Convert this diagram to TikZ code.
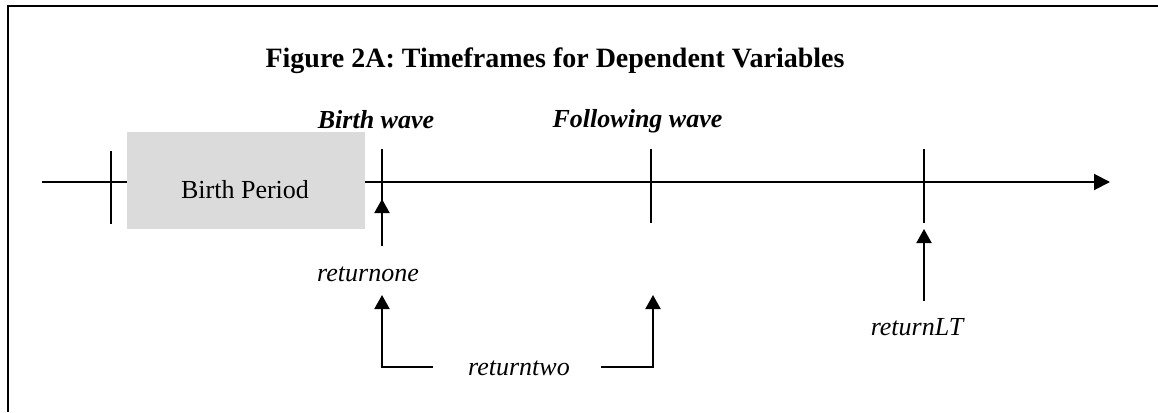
\documentclass[tikz,border=0pt]{standalone}
\usepackage{fontspec}
\setmainfont{Liberation Serif}
\usetikzlibrary{arrows.meta}
\begin{document}
\begin{tikzpicture}[x=1pt,y=-1pt,
  rule/.style={line width=2pt},
  arr/.style={line width=2pt,-{Triangle[length=14pt,width=15pt]}},
  tickmark/.style={line width=2pt},
  lbl/.style={anchor=base,inner sep=0pt,font=\fontsize{26}{30}\selectfont\itshape},
  wavelbl/.style={anchor=base,inner sep=0pt,font=\fontsize{26}{30}\selectfont\bfseries\itshape},
  periodbox/.style={fill=black!14,draw=none,minimum width=238pt,minimum height=97pt,inner sep=0pt}]
\useasboundingbox (0,0) rectangle (1158,412);

% frame (top and left edges)
\draw[rule] (1158,6) -- (8,6) -- (8,412);

% title
\node[anchor=base,inner sep=0pt,font=\fontsize{28}{32}\selectfont\bfseries] (title) at (555,67)
  {Figure 2A: Timeframes for Dependent Variables};

% time axis
\coordinate (axisstart) at (42,182);
\coordinate (axisend) at (1110,182);
\draw[line width=2pt,-{Triangle[length=16pt,width=16pt]}] (axisstart) -- (axisend);

% tick marks
\coordinate (t0top) at (111,151);  \coordinate (t0bot) at (111,224);
\coordinate (t1top) at (382,149);  \coordinate (t1bot) at (382,215);
\coordinate (t2top) at (651,149);  \coordinate (t2bot) at (651,223);
\coordinate (t3top) at (924,149);  \coordinate (t3bot) at (924,223);
\draw[tickmark] (t0top) -- (t0bot);
\draw[tickmark] (t1top) -- (t1bot);
\draw[tickmark] (t2top) -- (t2bot);
\draw[tickmark] (t3top) -- (t3bot);

% birth period block
\node[periodbox] (period) at (246,180.5) {};
\node[anchor=base,inner sep=0pt,font=\fontsize{26}{30}\selectfont] (periodtext) at (245,198) {Birth Period};

% wave labels
\node[wavelbl] (birthwave) at (376,128) {Birth wave};
\node[wavelbl] (followwave) at (637.5,127) {Following wave};

% returnone
\node[lbl] (returnone) at (368,281) {returnone};
\coordinate (r1start) at (382,246);
\coordinate (r1tip) at (382,199);
\draw[arr] (r1start) -- (r1tip);

% returntwo bracket
\node[lbl] (returntwo) at (519,375) {returntwo};
\coordinate (r2left) at (433,367);
\coordinate (r2right) at (601,367);
\coordinate (r2tipa) at (382,295);
\coordinate (r2tipb) at (653,295);
\draw[arr] (r2left) -- (382,367) -- (r2tipa);
\draw[arr] (r2right) -- (653,367) -- (r2tipb);

% returnLT
\node[lbl] (returnLT) at (917,335) {returnLT};
\coordinate (r3start) at (924,301);
\coordinate (r3tip) at (924,229);
\draw[arr] (r3start) -- (r3tip);
\end{tikzpicture}
\end{document}
